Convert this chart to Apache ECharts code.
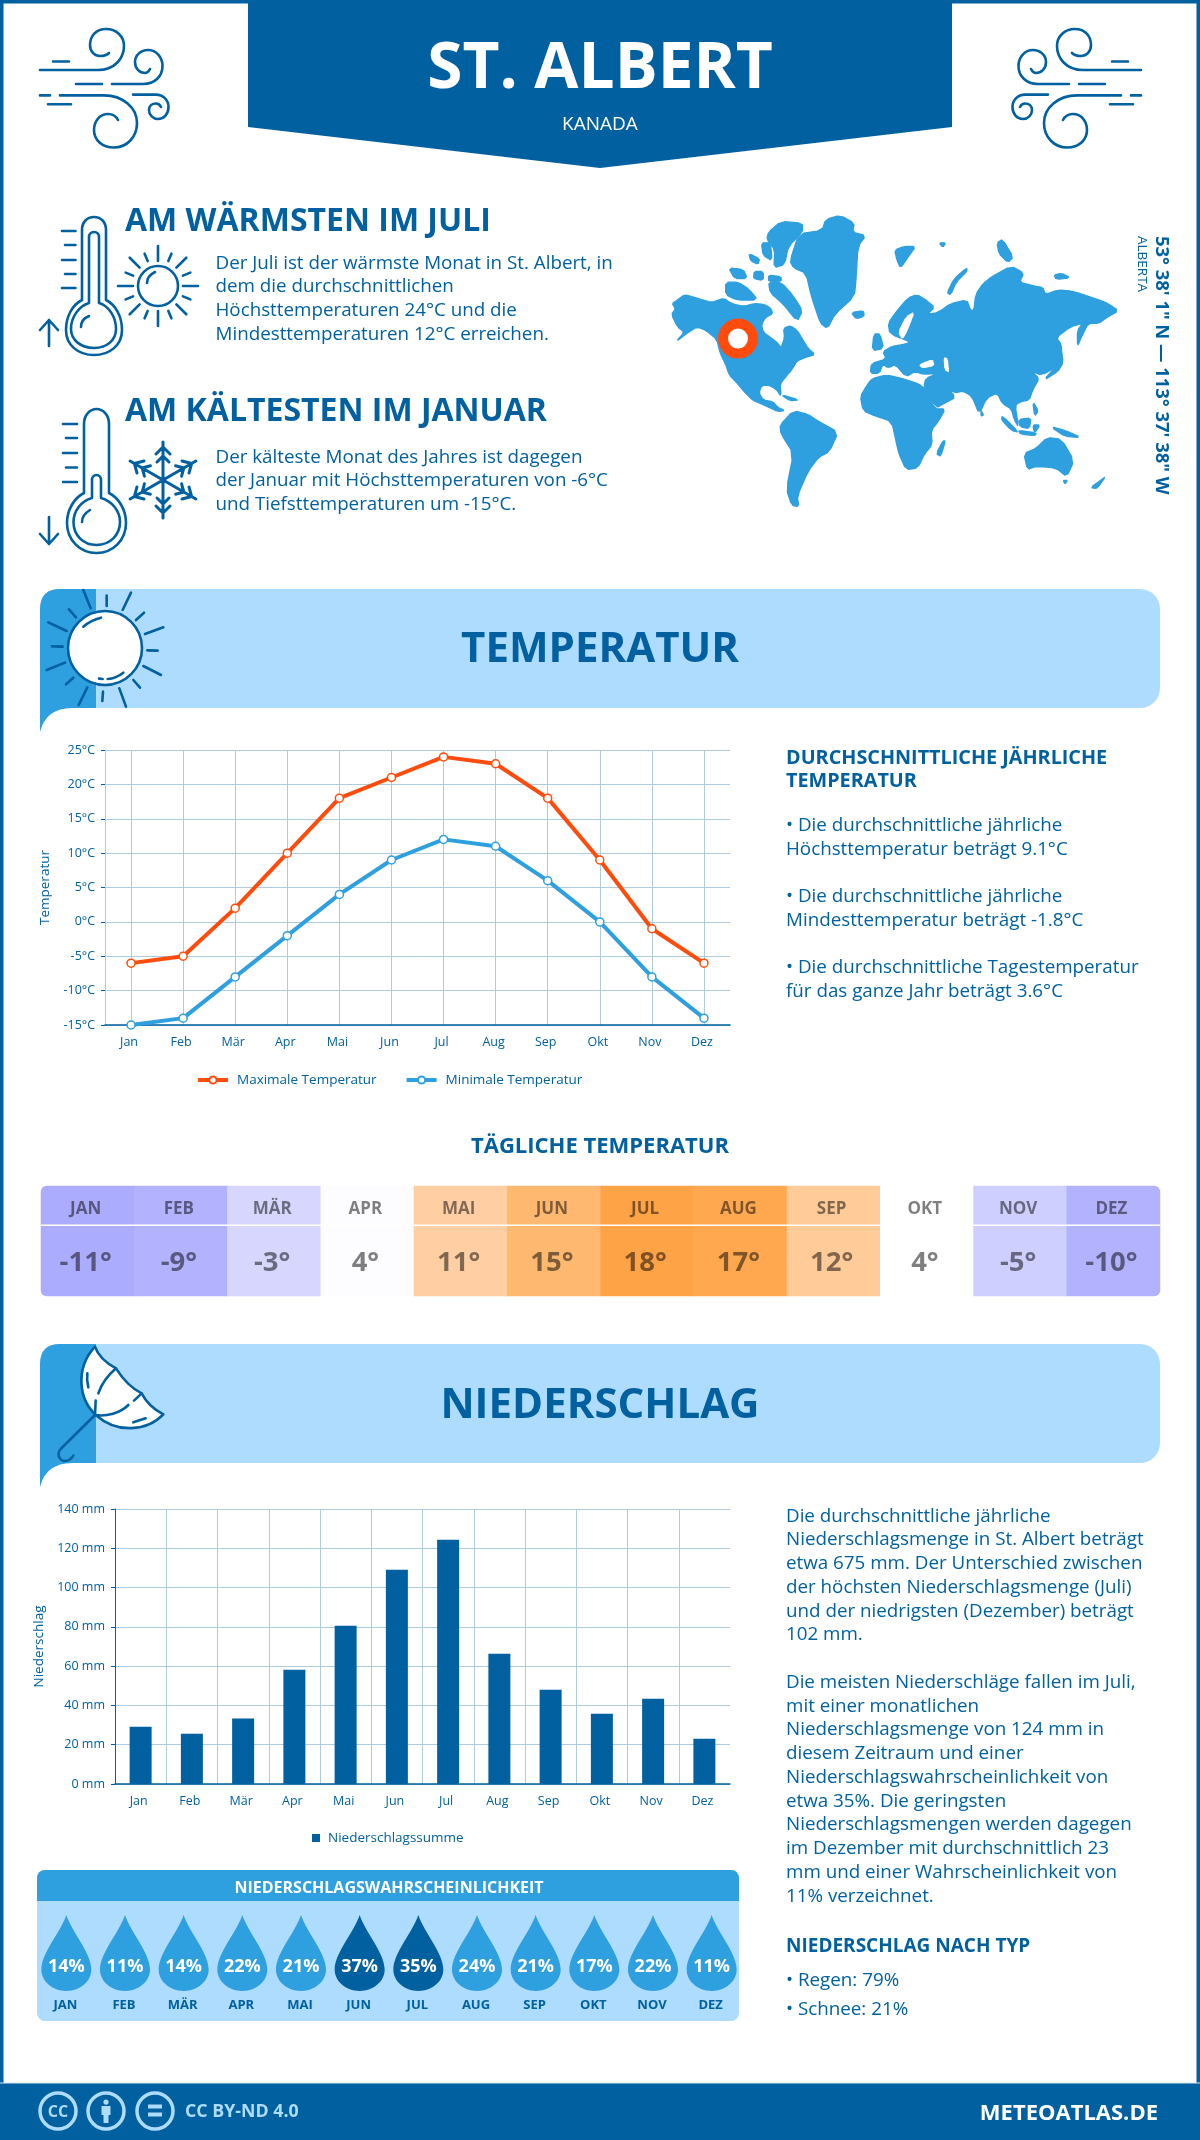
<!DOCTYPE html>
<html lang="de"><head><meta charset="utf-8"><title>St. Albert</title>
<style>html,body{margin:0;padding:0;background:#fff}#c{width:1200px;height:2140px}</style>
<script src="https://cdn.jsdelivr.net/npm/echarts@6/dist/echarts.min.js"></script>
</head><body><div id="c"></div>
<script>
// ---- data ----
const months = ['Jan','Feb','Mär','Apr','Mai','Jun','Jul','Aug','Sep','Okt','Nov','Dez'];
const monthsUpper = ['JAN','FEB','MÄR','APR','MAI','JUN','JUL','AUG','SEP','OKT','NOV','DEZ'];
const tempMax = [-6,-5,2,10,18,21,24,23,18,9,-1,-6];
const tempMin = [-15,-14,-8,-2,4,9,12,11,6,0,-8,-14];
const dailyTemp = [-11,-9,-3,4,11,15,18,17,12,4,-5,-10];
const precipitation = [29.2,25.6,33.3,58.2,80.6,109.1,124.4,66.3,48,35.8,43.4,23.1];
const precipChance = [14,11,14,22,21,37,35,24,21,17,22,11];

// ---- palette ----
const DARK='#01609f', MID='#2e9fdf', LIGHT='#aedcff', ORANGE='#ff4c0d', GRID='#aecbe0';
const FONT='"Open Sans"';
const dailyColors=['#acacff','#b2b2ff','#d6d6ff','#fdfdff','#ffcfa3','#ffb870','#ffa347','#ffa850','#ffcc99','#ffffff','#cfcfff','#b2b2ff'];

// ---- helpers for the surrounding infographic ----
const els=[]; let shapeId=0;
function shape(d,style,extra){
  const name='wm'+(shapeId++);
  echarts.graphic.registerShape(name,echarts.graphic.extendPath(d,{}));
  els.push(Object.assign({type:name,silent:true,style:Object.assign({fill:'none',stroke:DARK,lineWidth:2.6,lineCap:'round',lineJoin:'round'},style||{})},extra||{}));
}
function txt(x,y,text,size,weight,color,align,extra){
  els.push(Object.assign({type:'text',x,y,silent:true,style:{text,fontFamily:FONT,fontSize:size,fontWeight:weight||400,fill:color||DARK,align:align||'left',verticalAlign:'middle'}},extra||{}));
}
function lines(x,arr,size,weight){arr.forEach(l=>txt(x,l[0],l[1],size,weight));}
function rays(cx,cy,list){return list.map(r=>{const a=r[0]*Math.PI/180;return `M${cx+r[1]*Math.sin(a)} ${cy-r[1]*Math.cos(a)}L${cx+r[2]*Math.sin(a)} ${cy-r[2]*Math.cos(a)}`;}).join('');}

// page frame
els.push({type:'rect',silent:true,shape:{x:1.75,y:1.75,width:1196.5,height:2136},style:{fill:'#fff',stroke:DARK,lineWidth:3.5}});
shape('M248 0H952V127L600 168L248 127Z',{fill:DARK,stroke:'none'});
txt(600,70,'ST. ALBERT',64,700,'#fff','center');
txt(600,125,'KANADA',19,400,'#fff','center');

// wind icons
const wind='M40 70H98C115 70 124 58 124 46C124 36 116 29 106 29C96 29 90 36 90 45C90 52 95 56 100 56C104 56 107 55 109 53M53 61.5H69M112 84H143C155 84 162.5 76 162.5 66C162.5 57 156 50 148 50C141 50 135 55 135 62C135 69 140 73 145 73C147 73 149 71 150 69M76 84H102M40 95.4H50M60 95.4H104C123 95.4 137 108 137 123C137 137 127 147.5 114 147.5C102 147.5 94 140 94 130C94 121 100 114 108 114C112 114 116 116 118 120M133 94.6H156C163 94.6 168.5 100 168.5 107C168.5 114 164 119 158 119C153 119 149 115 149 110C149 106 152 103.5 156 103.5C158 103.5 160 105 161 107M48 104.3H71';
shape(wind);
shape(wind,{},{x:1181,scaleX:-1});

// warm block
shape('M82 300V230C82 222 87 217 94 217C101 217 106 222 106 230V300C116 305 122 317 122 330C122 345 110 355 94 355C78 355 66 345 66 330C66 317 72 305 82 300ZM89 303V237C89 234 91 232 94 232C97 232 99 234 99 237V303C109 306 116 317 116 329C116 340 107 348 94 348C81 348 71 340 71 329C71 317 79 306 89 303ZM81 327C81 322 84 318 89 316M62 231H75.5M65 245H75.5M62 260H75.5M65 274H75.5M62 288H75.5M49 346V320M40 330L49 320L58 330');
shape('M138 286A20 20 0 1 1 178 286A20 20 0 1 1 138 286ZM147 283C147 278 151 274 155 272'+rays(158,286,[[0,25,40],[45,26,40],[90,25,40],[135,26,40],[180,25,40],[225,26,40],[270,25,40],[315,26,40],[22.5,27,35],[67.5,27,35],[112.5,27,35],[157.5,27,35],[202.5,27,35],[247.5,27,35],[292.5,27,35],[337.5,27,35]]));
txt(125,222,'AM WÄRMSTEN IM JULI',32,700);
lines(215.5,[[263.5,'Der Juli ist der wärmste Monat in St. Albert, in'],[287,'dem die durchschnittlichen'],[310.5,'Höchsttemperaturen 24°C und die'],[334.5,'Mindesttemperaturen 12°C erreichen.']],18.8);

// cold block
shape('M84 493V424C84 415 90 409 96.5 409C103 409 109 415 109 424V493C119 498 126 510 126 523C126 540 113 553 96.5 553C80 553 67 540 67 523C67 510 74 498 84 493ZM92 498V480C92 477 94 475 96.5 475C99 475 101 477 101 480V498C112 501 120 511 120 522C120 535 110 545 96.5 545C83 545 73.5 535 73.5 522C73.5 511 81 501 92 498ZM82 522C82 517 85 513 90 510M63 424H77M66 438H77M63 453H77M66 467.5H77M63 482H77M49 517V544M40 534L49 544L58 534');
(function(){let d='';const cx=163,cy=480,R=38;for(let k=0;k<6;k++){const a=k*Math.PI/3,s=Math.sin(a),c=Math.cos(a);const P=(r,o)=>`${cx+r*s+o*c} ${cy-r*c+o*s}`;d+=`M${cx} ${cy}L${P(R,0)}M${P(R-12,-7)}L${P(R-5,0)}L${P(R-12,7)}M${P(R-20,-6)}L${P(R-14,0)}L${P(R-20,6)}`;}shape(d,{lineWidth:3});})();
txt(125,412,'AM KÄLTESTEN IM JANUAR',32,700);
lines(215.5,[[457.5,'Der kälteste Monat des Jahres ist dagegen'],[481,'der Januar mit Höchsttemperaturen von -6°C'],[504.5,'und Tiefsttemperaturen um -15°C.']],18.8);

// world map
const Z=p=>p.map(q=>[640+q[0]/2.8,q[1]/2.8]);
const rounded=p=>{const o=[];p.forEach((a,i)=>{const b=p[(i+1)%p.length];o.push([a[0]*0.8+b[0]*0.2,a[1]*0.8+b[1]*0.2],[a[0]*0.2+b[0]*0.8,a[1]*0.2+b[1]*0.8]);});return o;};
const land=[
[[90,850],[105,840],[125,825],[150,832],[175,840],[200,847],[235,835],[255,850],[290,858],[320,850],[345,852],[365,862],[372,878],[350,890],[340,910],[345,930],[365,945],[385,960],[395,975],[405,945],[402,920],[420,912],[440,925],[455,950],[470,975],[490,993],[465,1000],[440,1010],[425,1035],[408,1055],[392,1075],[395,1110],[382,1090],[360,1078],[340,1080],[333,1100],[345,1120],[372,1125],[385,1140],[405,1150],[385,1152],[350,1135],[315,1120],[295,1100],[270,1070],[250,1050],[240,1020],[225,990],[215,950],[185,925],[160,915],[135,930],[100,957],[125,930],[105,915],[88,880],[100,865]],
[[360,790],[395,790],[430,830],[455,870],[440,900],[400,850],[365,820]],
[[360,650],[395,620],[455,625],[455,650],[415,690],[405,740],[375,750],[378,700],[355,670]],
[[340,680],[365,680],[370,730],[345,715]],
[[240,790],[275,790],[305,810],[330,840],[270,840],[240,825]],
[[248,750],[290,755],[300,780],[265,780]],[[320,760],[345,760],[345,785],[318,780]],[[360,770],[395,775],[395,788],[360,788]],[[305,710],[335,725],[330,740],[310,730]],
[[420,730],[445,655],[510,645],[520,615],[560,603],[600,625],[595,650],[632,660],[610,690],[605,780],[600,830],[545,880],[525,920],[505,905],[480,830],[465,765],[430,750]],
[[592,875],[625,870],[628,885],[605,893]],
[[713,700],[740,690],[772,690],[750,720],[730,750],[720,730]],[[838,680],[856,680],[848,692]],
[[1000,680],[1015,670],[1045,720],[1030,735],[1005,710]],[[860,820],[880,780],[915,750],[915,760],[885,790],[870,825]],[[1160,770],[1180,765],[1205,778],[1165,782]],
[[645,1045],[648,1018],[690,1005],[680,985],[705,970],[735,965],[760,958],[700,935],[695,905],[720,870],[750,835],[775,825],[800,840],[825,860],[805,880],[835,875],[870,850],[915,840],[925,868],[935,870],[940,825],[960,795],[985,775],[1040,745],[1075,765],[1062,790],[1100,800],[1128,805],[1135,825],[1170,812],[1210,815],[1280,838],[1310,850],[1340,870],[1305,890],[1285,905],[1255,905],[1235,945],[1225,970],[1225,925],[1240,905],[1205,915],[1165,945],[1180,965],[1180,1005],[1160,1030],[1125,1050],[1095,1040],[1118,1060],[1100,1090],[1090,1120],[1065,1125],[1050,1135],[1060,1195],[1048,1175],[1040,1145],[1015,1130],[1000,1100],[970,1115],[950,1160],[930,1110],[905,1095],[880,1100],[850,1080],[885,1112],[850,1130],[830,1142],[795,1085],[800,1060],[835,1045],[795,1048],[770,1040],[745,1055],[715,1020],[695,1030],[680,1020],[670,1045]],
[[655,935],[672,935],[682,975],[650,982]],
[[617,1110],[635,1080],[650,1060],[690,1050],[735,1060],[780,1075],[800,1090],[825,1145],[855,1145],[835,1180],[815,1205],[818,1245],[797,1270],[778,1310],[745,1315],[725,1270],[718,1240],[705,1180],[660,1165],[625,1150]],
[[848,1235],[855,1235],[842,1278],[830,1270]],
[[392,1190],[430,1150],[470,1160],[500,1180],[555,1210],[530,1265],[500,1280],[470,1320],[440,1390],[445,1418],[425,1415],[410,1370],[430,1270],[395,1215]],
[[1075,1270],[1110,1255],[1140,1225],[1180,1230],[1215,1290],[1195,1335],[1165,1310],[1110,1305],[1085,1315]],
[[1185,1345],[1197,1345],[1190,1355]],[[1262,1365],[1290,1345],[1303,1335],[1280,1368]],
[[1130,1065],[1170,1040],[1185,1015],[1178,970],[1170,1020]],
[[1015,1165],[1060,1210],[1040,1205],[1012,1175]],[[1060,1205],[1110,1212],[1105,1220],[1065,1215]],[[1060,1175],[1095,1170],[1090,1200],[1065,1195]],
[[1150,1195],[1190,1205],[1235,1225],[1190,1222]],[[1100,1125],[1115,1150],[1105,1165]],[[1100,1190],[1120,1190],[1105,1212]],[[955,1150],[962,1162],[955,1165]],[[395,1105],[445,1120],[420,1122]]
];
const seas=[[[745,885],[770,872],[750,925],[735,952],[722,930]],[[780,1020],[820,1005],[825,1025],[790,1032]],[[850,1000],[862,1003],[866,1045],[852,1035]]];
land.forEach(p=>els.push({type:'polygon',silent:true,shape:{points:Z(rounded(p))},style:{fill:MID,stroke:MID,lineWidth:1.4,lineJoin:'round'}}));
seas.forEach(p=>els.push({type:'polygon',silent:true,shape:{points:Z(rounded(p))},style:{fill:'#fff'}}));
els.push({type:'circle',silent:true,shape:{cx:738,cy:338.6,r:15},style:{fill:'#fff',stroke:ORANGE,lineWidth:10}});
txt(1161,236,'53° 38\' 1" N — 113° 37\' 38" W',18.4,700,DARK,'left',{rotation:-Math.PI/2});
txt(1142,236,'ALBERTA',13.5,400,DARK,'left',{rotation:-Math.PI/2});

// section bands
function band(y){
  els.push({type:'rect',silent:true,shape:{x:40,y,width:1120,height:119,r:20},style:{fill:LIGHT}});
  shape(`M96 ${y}H60Q40 ${y} 40 ${y+20}V${y+143}Q46 ${y+119} 72 ${y+119}H96Z`,{fill:MID,stroke:'none'});
}
band(589); band(1344);
// big sun
const zs=(a,b)=>`${30+a/3} ${580+b/3}`;
let sd='';[[160,30,182,85],[303,38,278,90],[400,142,345,162],[393,285,340,258],[288,380,268,325],[146,375,172,322],[50,270,105,248],[55,127,110,153],[230,47,230,78],[342,98,318,120],[383,212,352,211],[330,323,310,300],[217,363,219,335],[130,293,108,313],[98,200,66,199],[138,112,117,88]].forEach(r=>{sd+=`M${zs(r[0],r[1])}L${zs(r[2],r[3])}`;});
shape(sd);
els.push({type:'circle',silent:true,shape:{cx:105,cy:648,r:37},style:{fill:'#fff',stroke:DARK,lineWidth:2.6}});
shape(`M${zs(160,140)}Q${zs(183,120)} ${zs(213,113)}M${zs(233,297)}Q${zs(258,295)} ${zs(280,278)}M${zs(207,296)}L${zs(218,297)}`);
txt(600,650,'TEMPERATUR',42,700,DARK,'center');
// umbrella
const zu=(a,b)=>`${30+a/3} ${1335+b/3}`;
shape(`M${zu(195,35)}C${zu(205,65)} ${zu(230,85)} ${zu(258,100)}C${zu(280,135)} ${zu(305,160)} ${zu(335,175)}C${zu(350,205)} ${zu(375,225)} ${zu(400,238)}C${zu(350,290)} ${zu(260,295)} ${zu(200,242)}C${zu(145,195)} ${zu(135,100)} ${zu(195,35)}Z`,{fill:'#fff'});
shape(`M${zu(258,100)}C${zu(235,120)} ${zu(215,145)} ${zu(205,175)}M${zu(197,197)}L${zu(195,240)}C${zu(230,245)} ${zu(270,235)} ${zu(295,210)}M${zu(312,197)}L${zu(335,175)}M${zu(172,115)}C${zu(170,130)} ${zu(172,145)} ${zu(175,157)}M${zu(310,262)}L${zu(347,250)}M${zu(195,240)}L${zu(92,342)}C${zu(78,358)} ${zu(90,378)} ${zu(105,378)}C${zu(115,378)} ${zu(125,370)} ${zu(130,362)}`);
txt(600,1406,'NIEDERSCHLAG',42,700,DARK,'center');

// temperature side text
lines(786,[[758,'DURCHSCHNITTLICHE JÄHRLICHE'],[781,'TEMPERATUR']],19.8,700);
lines(786,[[825.5,'• Die durchschnittliche jährliche'],[849.5,'Höchsttemperatur beträgt 9.1°C'],[896.5,'• Die durchschnittliche jährliche'],[920.5,'Mindesttemperatur beträgt -1.8°C'],[967.5,'• Die durchschnittliche Tagestemperatur'],[991.5,'für das ganze Jahr beträgt 3.6°C']],18.8);
txt(600,1147,'TÄGLICHE TEMPERATUR',22,700,DARK,'center');

// precipitation side text
lines(786,[[1517,'Die durchschnittliche jährliche'],[1540,'Niederschlagsmenge in St. Albert beträgt'],[1564,'etwa 675 mm. Der Unterschied zwischen'],[1588,'der höchsten Niederschlagsmenge (Juli)'],[1612,'und der niedrigsten (Dezember) beträgt'],[1635,'102 mm.'],[1683,'Die meisten Niederschläge fallen im Juli,'],[1707,'mit einer monatlichen'],[1730,'Niederschlagsmenge von 124 mm in'],[1754,'diesem Zeitraum und einer'],[1778,'Niederschlagswahrscheinlichkeit von'],[1802,'etwa 35%. Die geringsten'],[1825,'Niederschlagsmengen werden dagegen'],[1849,'im Dezember mit durchschnittlich 23'],[1873,'mm und einer Wahrscheinlichkeit von'],[1897,'11% verzeichnet.'],[1981,'• Regen: 79%'],[2010,'• Schnee: 21%']],18.8);
txt(786,1947,'NIEDERSCHLAG NACH TYP',19,700);

// chance panel
els.push({type:'rect',silent:true,shape:{x:37,y:1870,width:702,height:151,r:8},style:{fill:LIGHT}});
els.push({type:'rect',silent:true,shape:{x:37,y:1870,width:702,height:31,r:[8,8,0,0]},style:{fill:MID}});
txt(389,1888,'NIEDERSCHLAGSWAHRSCHEINLICHKEIT',16,700,'#fff','center');

// footer
els.push({type:'rect',silent:true,shape:{x:0,y:2083,width:1200,height:57},style:{fill:DARK}});
els.push({type:'rect',silent:true,shape:{x:0,y:2082.5,width:1200,height:1},style:{fill:'#d8e4ec'}});
[58,106,155].forEach(cx=>els.push({type:'circle',silent:true,shape:{cx,cy:2111,r:18},style:{fill:'none',stroke:LIGHT,lineWidth:3.5}}));
txt(58,2112,'CC',16,700,LIGHT,'center');
shape('M106 2099.5A2.6 2.6 0 1 1 106 2104.7A2.6 2.6 0 1 1 106 2099.5ZM101.5 2106H110.5V2115H108.5V2123H103.5V2115H101.5Z',{fill:LIGHT,stroke:'none'});
shape('M148 2104.5H162V2108.5H148ZM148 2112.5H162V2116.5H148Z',{fill:LIGHT,stroke:'none'});
txt(185,2112,'CC BY-ND 4.0',17.8,700,LIGHT);
txt(1158,2114,'METEOATLAS.DE',22,700,'#fff','right');

// white rule across the month strip, above the cells
els.push({type:'rect',silent:true,z:50,shape:{x:41,y:1224.5,width:1119,height:1.5},style:{fill:'#fff'}});

const tickText={color:DARK,fontFamily:FONT,fontSize:12.5};
const nameText={color:DARK,fontFamily:FONT,fontSize:13.5};
const option={
  animation:false,
  backgroundColor:'#fff',
  textStyle:{fontFamily:FONT},
  graphic:{elements:els},
  legend:[
    {left:191,top:1068,itemWidth:30,itemHeight:9,itemGap:28,data:['Maximale Temperatur','Minimale Temperatur'],lineStyle:{width:4},textStyle:{color:DARK,fontFamily:FONT,fontSize:13.5,padding:[0,0,0,4]}},
    {left:307,top:1826,itemWidth:8,itemHeight:8,data:['Niederschlagssumme'],icon:'rect',textStyle:{color:DARK,fontFamily:FONT,fontSize:13.5,padding:[0,0,0,3]}}
  ],
  grid:[
    {left:105,top:750,width:625,height:275},
    {left:115,top:1509,width:615,height:275},
    {left:41,top:1186,width:1119,height:110},
    {left:37,top:1910,width:704,height:86}
  ],
  xAxis:[
    {gridIndex:0,type:'category',data:months,axisTick:{show:false},axisLine:{onZero:false,lineStyle:{color:DARK,width:1.5}},axisLabel:Object.assign({margin:11,padding:[0,4,0,0]},tickText),splitLine:{show:true,alignWithLabel:true,lineStyle:{color:GRID,width:1}}},
    {gridIndex:1,type:'category',data:months,axisTick:{show:false},axisLine:{onZero:false,lineStyle:{color:DARK,width:1.5}},axisLabel:Object.assign({margin:11,padding:[0,4,0,0]},tickText),splitLine:{show:true,showMaxLine:false,lineStyle:{color:GRID,width:1}}},
    {gridIndex:2,type:'category',position:'top',data:monthsUpper,axisTick:{show:false},axisLine:{show:false},splitLine:{show:false},z:10,axisLabel:{inside:true,margin:15,padding:[0,4,0,0],color:'#000',opacity:0.5,fontFamily:FONT,fontWeight:700,fontSize:17}},
    {gridIndex:3,type:'category',data:monthsUpper,axisTick:{show:false},axisLine:{show:false},splitLine:{show:false},axisLabel:{margin:3,padding:[0,2,0,0],color:DARK,fontFamily:FONT,fontWeight:700,fontSize:13}}
  ],
  yAxis:[
    {gridIndex:0,type:'value',min:-15,max:25,interval:5,name:'Temperatur',nameLocation:'middle',nameGap:48,nameTextStyle:nameText,axisLine:{show:true,lineStyle:{color:GRID}},axisTick:{show:true,length:4,lineStyle:{color:DARK}},axisLabel:Object.assign({margin:10,formatter:'{value}°C'},tickText),splitLine:{lineStyle:{color:GRID,width:1}}},
    {gridIndex:1,type:'value',min:0,max:140,interval:20,name:'Niederschlag',nameLocation:'middle',nameGap:57,nameTextStyle:nameText,axisLine:{show:true,lineStyle:{color:DARK}},axisTick:{show:true,length:4,lineStyle:{color:DARK}},axisLabel:Object.assign({margin:10,formatter:'{value} mm'},tickText),splitLine:{lineStyle:{color:GRID,width:1}}},
    {gridIndex:2,type:'category',data:['Tag'],show:false},
    {gridIndex:3,type:'value',min:0,max:1,show:false}
  ],
  series:[
    {name:'Maximale Temperatur',type:'line',xAxisIndex:0,yAxisIndex:0,data:tempMax,symbol:'circle',symbolSize:8,showAllSymbols:true,showSymbol:true,clip:false,lineStyle:{color:ORANGE,width:4},itemStyle:{color:'#fff',borderColor:ORANGE,borderWidth:1.5}},
    {name:'Minimale Temperatur',type:'line',xAxisIndex:0,yAxisIndex:0,data:tempMin,symbol:'circle',symbolSize:8,showAllSymbols:true,showSymbol:true,clip:false,lineStyle:{color:MID,width:4},itemStyle:{color:'#fff',borderColor:MID,borderWidth:1.5}},
    {name:'Niederschlagssumme',type:'bar',xAxisIndex:1,yAxisIndex:1,data:precipitation,barWidth:22,itemStyle:{color:DARK}},
    {name:'Tägliche Temperatur',type:'heatmap',xAxisIndex:2,yAxisIndex:2,
      data:dailyTemp.map((v,i)=>({value:[i,0,v],itemStyle:{color:dailyColors[i],borderRadius:i===0?[6,0,0,6]:i===11?[0,6,6,0]:0}})),
      label:{show:true,formatter:p=>p.value[2]+'°',offset:[-2,22],color:'#000',opacity:0.5,fontFamily:FONT,fontWeight:700,fontSize:27.5},
      emphasis:{disabled:true}},
    {name:'Niederschlagswahrscheinlichkeit',type:'scatter',xAxisIndex:3,yAxisIndex:3,
      symbol:'path://M50 0C62 40 100 85 100 122C100 148 78 170 50 170C22 170 0 148 0 122C0 85 38 40 50 0Z',symbolSize:[50,76],
      data:precipChance.map((v,i)=>({value:[i,0.5,v],itemStyle:{color:v>=35?DARK:MID,opacity:1}})),
      label:{show:true,position:'inside',offset:[0,14],formatter:p=>p.value[2]+'%',color:'#fff',textBorderWidth:0,fontFamily:FONT,fontWeight:700,fontSize:18}}
  ]
};
echarts.init(document.getElementById('c'),null,{renderer:'canvas',width:1200,height:2140}).setOption(option);
</script></body></html>
